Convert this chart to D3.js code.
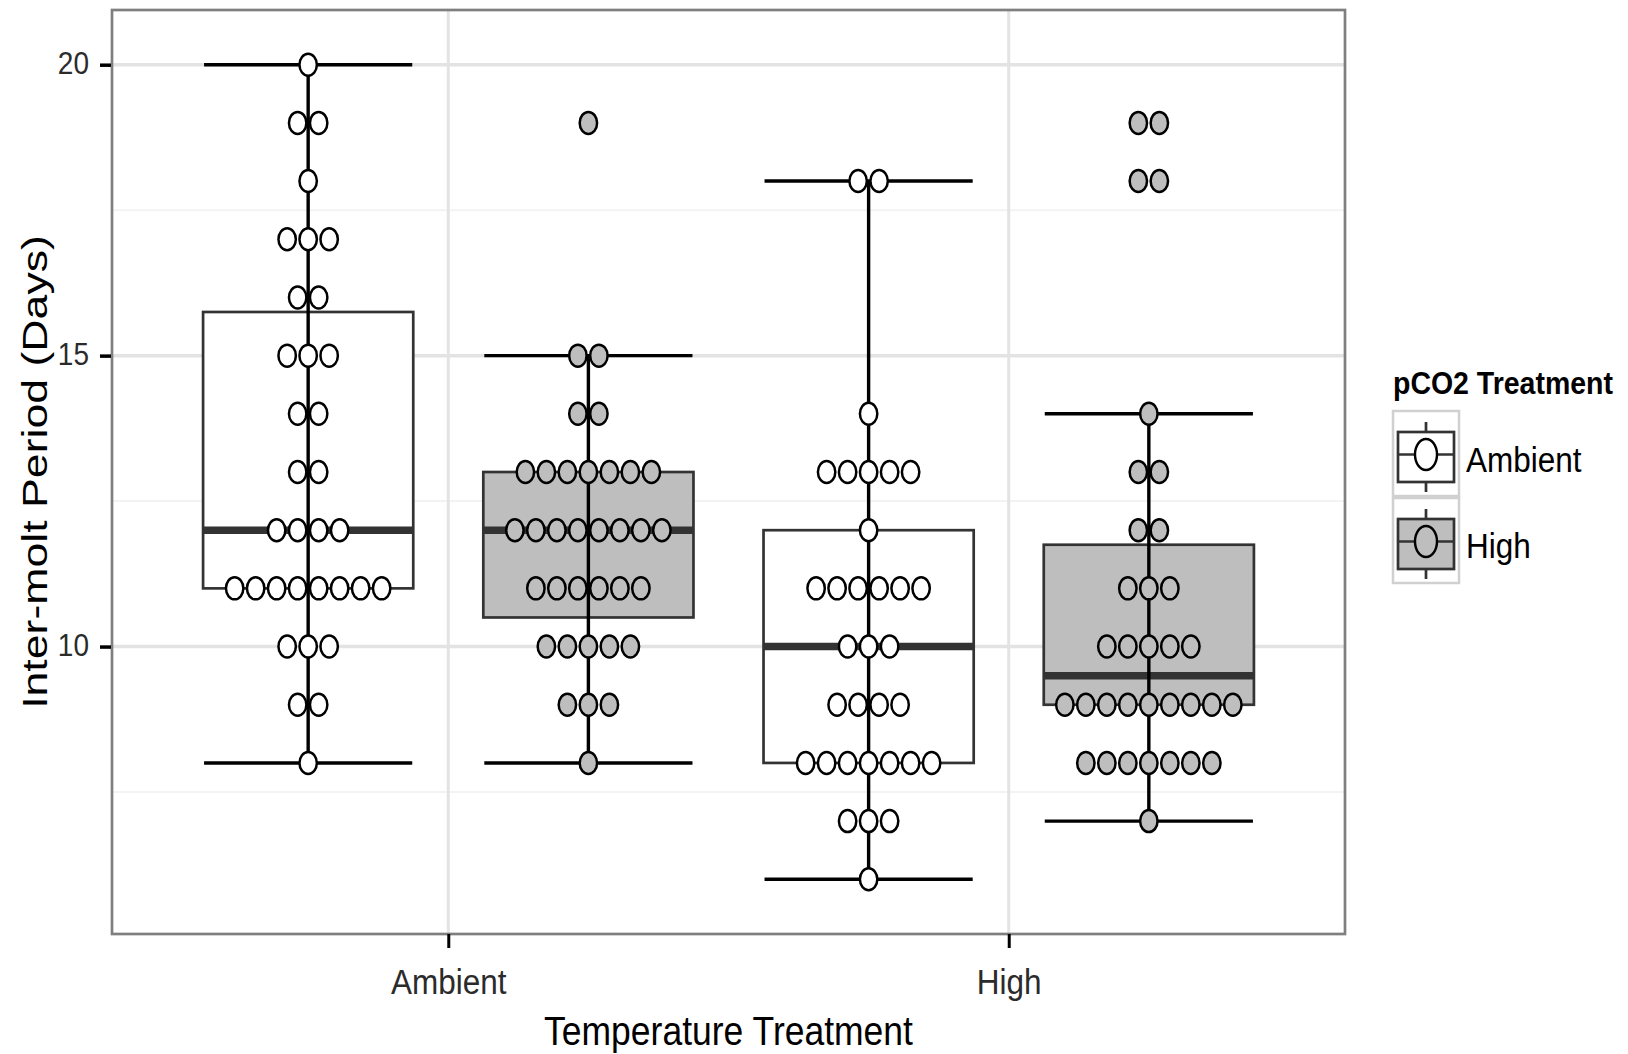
<!DOCTYPE html>
<html>
<head>
<meta charset="utf-8">
<script src="https://cdn.jsdelivr.net/npm/d3@7"></script>
<style>
  body { margin: 0; background: #fff; }
  svg text { font-family: "Liberation Sans", Arial, sans-serif; }
</style>
</head>
<body>
<div id="viz"></div>
<script>
// categories
const tempLevels = ["Ambient", "High"];
const co2Levels = ["Ambient", "High"];
const yTicks = [10, 15, 20];
const yMinorTicks = [7.5, 12.5, 17.5];

// dot counts per inter-molt period
const ambAmbDays    = [8, 9, 10, 11, 12, 13, 14, 15, 16, 17, 18, 19, 20];
const ambAmbCounts  = [1, 2, 3, 8, 4, 2, 2, 3, 2, 3, 1, 2, 1];
const ambHighDays   = [8, 9, 10, 11, 12, 13, 14, 15, 19];
const ambHighCounts = [1, 3, 5, 6, 8, 7, 2, 2, 1];
const highAmbDays   = [6, 7, 8, 9, 10, 11, 12, 13, 14, 18];
const highAmbCounts = [1, 3, 7, 4, 3, 6, 1, 5, 1, 2];
const highHighDays  = [7, 8, 9, 10, 11, 12, 13, 14, 18, 19];
const highHighCounts = [1, 7, 9, 5, 3, 2, 2, 1, 2, 2];

const groups = [
    { temp: "Ambient", co2: "Ambient", days: ambAmbDays, counts: ambAmbCounts },
    { temp: "Ambient", co2: "High", days: ambHighDays, counts: ambHighCounts },
    { temp: "High", co2: "Ambient", days: highAmbDays, counts: highAmbCounts },
    { temp: "High", co2: "High", days: highHighDays, counts: highHighCounts }
];

const fills = { Ambient: "#ffffff", High: "#bebebe" };

const width = 1628;
const height = 1054;
const panel = { left: 112, right: 1345, top: 10, bottom: 934 };

const svg = d3.select('#viz')
              .append('svg')
              .attr('width', width)
              .attr('height', height);

const y = d3.scaleLinear().domain([5.06, 20.94]).range([panel.bottom, panel.top]);
const x = d3.scalePoint().domain(tempLevels).range([panel.left, panel.right]).padding(0.6);
const step = x.step();
const dodge = d3.scalePoint().domain(co2Levels).range([-0.25 * step, 0.25 * step]);
const boxW = 0.375 * step;
const dotStep = 21;

function boxStats(days, counts) {
    const vals = [];
    days.forEach((d, i) => { for (let k = 0; k < counts[i]; k++) vals.push(d); });
    vals.sort(d3.ascending);
    const q1 = d3.quantile(vals, 0.25);
    const med = d3.quantile(vals, 0.5);
    const q3 = d3.quantile(vals, 0.75);
    const iqr = q3 - q1;
    const lo = d3.min(vals.filter(v => v >= q1 - 1.5 * iqr));
    const hi = d3.max(vals.filter(v => v <= q3 + 1.5 * iqr));
    return { q1, med, q3, lo, hi };
}

groups.forEach(g => {
    g.cx = x(g.temp) + dodge(g.co2);
    g.stats = boxStats(g.days, g.counts);
});

// grid
const grid = svg.append('g');
grid.selectAll('.minor')
    .data(yMinorTicks)
    .enter()
    .append('line')
    .attr('x1', panel.left).attr('x2', panel.right)
    .attr('y1', d => y(d)).attr('y2', d => y(d))
    .attr('stroke', '#f3f3f3').attr('stroke-width', 2);
grid.selectAll('.major')
    .data(yTicks)
    .enter()
    .append('line')
    .attr('x1', panel.left).attr('x2', panel.right)
    .attr('y1', d => y(d)).attr('y2', d => y(d))
    .attr('stroke', '#e3e3e3').attr('stroke-width', 3.5);
grid.selectAll('.vmajor')
    .data(tempLevels)
    .enter()
    .append('line')
    .attr('x1', d => x(d)).attr('x2', d => x(d))
    .attr('y1', panel.top).attr('y2', panel.bottom)
    .attr('stroke', '#e3e3e3').attr('stroke-width', 3);

// boxes
const boxes = svg.append('g');
boxes.selectAll('rect')
     .data(groups)
     .enter()
     .append('rect')
     .attr('x', d => d.cx - boxW / 2)
     .attr('width', boxW)
     .attr('y', d => y(d.stats.q3))
     .attr('height', d => y(d.stats.q1) - y(d.stats.q3))
     .attr('fill', d => fills[d.co2])
     .attr('stroke', '#333')
     .attr('stroke-width', 2.7);
boxes.selectAll('.median')
     .data(groups)
     .enter()
     .append('line')
     .attr('x1', d => d.cx - boxW / 2).attr('x2', d => d.cx + boxW / 2)
     .attr('y1', d => y(d.stats.med)).attr('y2', d => y(d.stats.med))
     .attr('stroke', '#333').attr('stroke-width', 7.5);

// error bars
const bars = svg.append('g').attr('stroke', '#000').attr('stroke-width', 3.4);
bars.selectAll('.vert')
    .data(groups)
    .enter()
    .append('line')
    .attr('x1', d => d.cx).attr('x2', d => d.cx)
    .attr('y1', d => y(d.stats.lo)).attr('y2', d => y(d.stats.hi));
['lo', 'hi'].forEach(k => {
    bars.selectAll('.cap-' + k)
        .data(groups)
        .enter()
        .append('line')
        .attr('x1', d => d.cx - boxW / 2 + 1).attr('x2', d => d.cx + boxW / 2 - 1)
        .attr('y1', d => y(d.stats[k])).attr('y2', d => y(d.stats[k]));
});

// dots
const dots = [];
groups.forEach(g => {
    g.days.forEach((day, i) => {
        const n = g.counts[i];
        for (let j = 0; j < n; j++) {
            dots.push({ cx: g.cx + (j - (n - 1) / 2) * dotStep, day: day, co2: g.co2 });
        }
    });
});
svg.append('g')
   .selectAll('ellipse')
   .data(dots)
   .enter()
   .append('ellipse')
   .attr('cx', d => d.cx)
   .attr('cy', d => y(d.day))
   .attr('rx', 8.7)
   .attr('ry', 11)
   .attr('fill', d => fills[d.co2])
   .attr('stroke', '#000')
   .attr('stroke-width', 2.5);

// panel border
svg.append('rect')
   .attr('x', panel.left).attr('y', panel.top)
   .attr('width', panel.right - panel.left)
   .attr('height', panel.bottom - panel.top)
   .attr('fill', 'none')
   .attr('stroke', '#7f7f7f')
   .attr('stroke-width', 2.7);

// axes
const yAxis = d3.axisLeft(y).tickValues(yTicks).tickSize(11).tickSizeOuter(0);
const yg = svg.append('g')
              .attr('transform', 'translate(' + (panel.left - 1) + ',0)')
              .call(yAxis);
yg.select('.domain').remove();
yg.selectAll('line').attr('stroke', '#000').attr('stroke-width', 3.5);
yg.selectAll('text')
  .attr('x', null).attr('dy', null)
  .attr('transform', 'translate(-22,9) scale(1,1.1)')
  .attr('fill', '#2b2b2b')
  .style('font-size', '28px');

const xAxis = d3.axisBottom(x).tickSize(14).tickSizeOuter(0);
const xg = svg.append('g')
              .attr('transform', 'translate(0,' + panel.bottom + ')')
              .call(xAxis);
xg.select('.domain').remove();
xg.selectAll('line').attr('stroke', '#000').attr('stroke-width', 3);
xg.selectAll('text')
  .attr('y', null).attr('dy', null)
  .attr('transform', 'translate(0,60) scale(1,1.1)')
  .attr('fill', '#2b2b2b')
  .style('font-size', '31.5px');

// axis titles
svg.append('text')
   .attr('transform', 'translate(' + ((panel.left + panel.right) / 2) + ',1045) scale(1,1.12)')
   .attr('text-anchor', 'middle')
   .style('font-size', '35.5px')
   .text('Temperature Treatment');
svg.append('text')
   .attr('transform', 'translate(47,' + ((panel.top + panel.bottom) / 2) + ') rotate(-90) scale(1.24,1)')
   .attr('text-anchor', 'middle')
   .style('font-size', '36px')
   .text('Inter-molt Period (Days)');

// legend
const legend = svg.append('g').attr('transform', 'translate(1393,0)');
legend.append('text')
      .attr('transform', 'translate(0,394) scale(1,1.1)')
      .style('font-size', '28.5px')
      .style('font-weight', 'bold')
      .text('pCO2 Treatment');

const keyW = 66, keyH = 85, keyTop = 411, keyGap = 2;
co2Levels.forEach((lvl, i) => {
    const k = legend.append('g').attr('transform', 'translate(0,' + (keyTop + i * (keyH + keyGap)) + ')');
    k.append('rect')
     .attr('width', keyW).attr('height', keyH)
     .attr('fill', '#fff').attr('stroke', '#d0d0d0').attr('stroke-width', 2.5);
    const cx = keyW / 2, cy = keyH / 2 + 1;
    k.append('line').attr('x1', cx).attr('x2', cx).attr('y1', 11).attr('y2', keyH - 4)
     .attr('stroke', '#333').attr('stroke-width', 2.7);
    k.append('rect')
     .attr('x', 5).attr('y', 21).attr('width', keyW - 10).attr('height', 50)
     .attr('fill', fills[lvl]).attr('stroke', '#333').attr('stroke-width', 2.7);
    k.append('line').attr('x1', 5).attr('x2', keyW - 5).attr('y1', cy).attr('y2', cy)
     .attr('stroke', '#333').attr('stroke-width', 2.7);
    k.append('ellipse')
     .attr('cx', cx).attr('cy', cy).attr('rx', 11).attr('ry', 15.5)
     .attr('fill', fills[lvl]).attr('stroke', '#000').attr('stroke-width', 2.4);
    legend.append('text')
          .attr('transform', 'translate(73,' + (472 + i * 86) + ') scale(1,1.1)')
          .style('font-size', '31.5px')
          .text(lvl);
});
</script>
</body>
</html>
